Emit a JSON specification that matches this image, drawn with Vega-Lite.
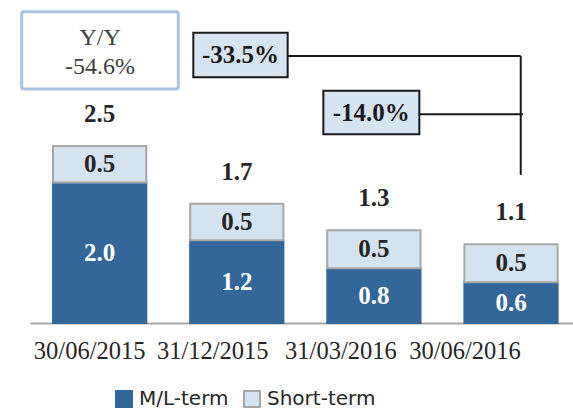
{
  "$schema": "https://vega.github.io/schema/vega-lite/v6.json",
  "width": 543,
  "height": 323,
  "autosize": "none",
  "padding": {"left": 30, "top": 0, "right": 0, "bottom": 86},
  "background": "white",
  "config": {"view": {"stroke": null}, "axis": {"grid": false}},
  "resolve": {"scale": {"x": "independent"}},
  "layer": [
    {
      "data": {
        "values": [
          {"date": "30/06/2015", "term": "M/L-term", "value": 2.0},
          {"date": "30/06/2015", "term": "Short-term", "value": 0.52},
          {"date": "31/12/2015", "term": "M/L-term", "value": 1.18},
          {"date": "31/12/2015", "term": "Short-term", "value": 0.52},
          {"date": "31/03/2016", "term": "M/L-term", "value": 0.78},
          {"date": "31/03/2016", "term": "Short-term", "value": 0.54},
          {"date": "30/06/2016", "term": "M/L-term", "value": 0.58},
          {"date": "30/06/2016", "term": "Short-term", "value": 0.54}
        ]
      },
      "layer": [
        {
          "mark": {"type": "bar", "strokeWidth": 2},
          "encoding": {
            "x": {
              "field": "date", "type": "nominal",
              "sort": ["30/06/2015", "31/12/2015", "31/03/2016", "30/06/2016"],
              "scale": {"paddingInner": 0.32, "paddingOuter": 0.14, "align": 0.6},
              "axis": {"title": null, "labelAngle": 0, "labelFont": "Liberation Serif", "labelFontSize": 24.5, "labelColor": "#262626", "ticks": false, "labelPadding": 16, "domainColor": "#a6a6a6", "domainWidth": 2, "labelFlush": false,
                "labelOffset": {"expr": "datum.value === '30/06/2015' ? -10 : datum.value === '31/12/2015' ? -24 : datum.value === '31/03/2016' ? -33 : -46"}}
            },
            "y": {"field": "value", "type": "quantitative", "stack": "zero", "scale": {"domain": [0, 4.6], "nice": false}, "axis": null},
            "order": {"field": "term", "type": "nominal", "sort": "ascending"},
            "color": {
              "field": "term", "type": "nominal",
              "scale": {"domain": ["M/L-term", "Short-term"], "range": ["#336699", "#d5e3f1"]},
              "legend": {"orient": "none", "legendX": 84, "legendY": 389, "direction": "horizontal", "padding": 0, "title": null, "symbolType": "square", "symbolSize": 256, "symbolStrokeWidth": 2, "labelFont": "DejaVu Sans", "labelFontSize": 20, "labelColor": "#262626", "columnPadding": 11, "labelOffset": 5}
            },
            "stroke": {
              "field": "term", "type": "nominal",
              "scale": {"domain": ["M/L-term", "Short-term"], "range": ["#336699", "#a6a6a6"]},
              "legend": {"orient": "none", "legendX": 84, "legendY": 389, "direction": "horizontal", "padding": 0, "title": null, "symbolType": "square", "symbolSize": 256, "symbolStrokeWidth": 2, "labelFont": "DejaVu Sans", "labelFontSize": 20, "labelColor": "#262626", "columnPadding": 11, "labelOffset": 5}
            }
          }
        },
        {
          "transform": [
            {"stack": "value", "groupby": ["date"], "sort": [{"field": "term", "order": "ascending"}], "as": ["v0", "v1"]},
            {"fold": ["v0", "v1"], "as": ["edge", "pos"]},
            {"aggregate": [{"op": "mean", "field": "pos", "as": "mid"}, {"op": "max", "field": "value", "as": "val"}], "groupby": ["date", "term"]}
          ],
          "mark": {"type": "text", "font": "Liberation Serif", "fontWeight": "bold", "fontSize": 25, "baseline": "middle", "align": "center"},
          "encoding": {
            "x": {"field": "date", "type": "nominal", "sort": ["30/06/2015", "31/12/2015", "31/03/2016", "30/06/2016"]},
            "y": {"field": "mid", "type": "quantitative", "scale": {"domain": [0, 4.6], "nice": false}, "axis": null},
            "text": {"field": "val", "type": "quantitative", "format": ".1f"},
            "color": {"condition": {"test": "datum.term === 'M/L-term'", "value": "white"}, "value": "#262626"}
          }
        },
        {
          "mark": {"type": "text", "font": "Liberation Serif", "fontWeight": "bold", "fontSize": 25, "baseline": "middle", "align": "center", "dy": -32, "color": "#262626"},
          "encoding": {
            "x": {"field": "date", "type": "nominal", "sort": ["30/06/2015", "31/12/2015", "31/03/2016", "30/06/2016"]},
            "y": {"aggregate": "sum", "field": "value", "type": "quantitative", "scale": {"domain": [0, 4.6], "nice": false}, "axis": null},
            "text": {"aggregate": "sum", "field": "value", "type": "quantitative", "format": ".1f"}
          }
        }
      ]
    },
    {
      "data": {"values": [{"yy": "Y/Y", "yyChange": "-54.6%", "chg1": "-33.5%", "chg2": "-14.0%"}]},
      "layer": [
        {
          "mark": {"type": "rect", "fill": "white", "stroke": "#a9c4e2", "strokeWidth": 3, "cornerRadius": 2},
          "encoding": {
            "x": {"datum": -0.061, "type": "quantitative", "scale": {"domain": [0, 4], "nice": false, "zero": false}, "axis": null},
            "x2": {"datum": 1.092},
            "y": {"datum": 4.433, "type": "quantitative", "scale": {"domain": [0, 4.6], "nice": false}, "axis": null},
            "y2": {"datum": 3.332}
          }
        },
        {
          "mark": {"type": "text", "font": "Liberation Serif", "fontSize": 24, "color": "#404040", "baseline": "middle", "align": "center"},
          "encoding": {
            "x": {"datum": 0.516, "type": "quantitative", "scale": {"domain": [0, 4], "nice": false, "zero": false}, "axis": null},
            "y": {"datum": 4.058, "type": "quantitative", "scale": {"domain": [0, 4.6], "nice": false}, "axis": null},
            "text": {"field": "yy"}
          }
        },
        {
          "mark": {"type": "text", "font": "Liberation Serif", "fontSize": 24, "color": "#404040", "baseline": "middle", "align": "center"},
          "encoding": {
            "x": {"datum": 0.516, "type": "quantitative", "scale": {"domain": [0, 4], "nice": false, "zero": false}, "axis": null},
            "y": {"datum": 3.646, "type": "quantitative", "scale": {"domain": [0, 4.6], "nice": false}, "axis": null},
            "text": {"field": "yyChange"}
          }
        },
        {
          "mark": {"type": "rule", "color": "#1a1a1a", "strokeWidth": 2},
          "encoding": {
            "x": {"datum": 1.898, "type": "quantitative", "scale": {"domain": [0, 4], "nice": false, "zero": false}, "axis": null},
            "x2": {"datum": 3.615},
            "y": {"datum": 3.802, "type": "quantitative", "scale": {"domain": [0, 4.6], "nice": false}, "axis": null}
          }
        },
        {
          "mark": {"type": "rule", "color": "#1a1a1a", "strokeWidth": 2},
          "encoding": {
            "x": {"datum": 3.615, "type": "quantitative", "scale": {"domain": [0, 4], "nice": false, "zero": false}, "axis": null},
            "y": {"datum": 3.802, "type": "quantitative", "scale": {"domain": [0, 4.6], "nice": false}, "axis": null},
            "y2": {"datum": 2.108}
          }
        },
        {
          "mark": {"type": "rule", "color": "#1a1a1a", "strokeWidth": 2},
          "encoding": {
            "x": {"datum": 2.868, "type": "quantitative", "scale": {"domain": [0, 4], "nice": false, "zero": false}, "axis": null},
            "x2": {"datum": 3.632},
            "y": {"datum": 2.972, "type": "quantitative", "scale": {"domain": [0, 4.6], "nice": false}, "axis": null}
          }
        },
        {
          "mark": {"type": "rect", "fill": "#d6e4f2", "stroke": "#1a1a1a", "strokeWidth": 2},
          "encoding": {
            "x": {"datum": 1.203, "type": "quantitative", "scale": {"domain": [0, 4], "nice": false, "zero": false}, "axis": null},
            "x2": {"datum": 1.898},
            "y": {"datum": 4.134, "type": "quantitative", "scale": {"domain": [0, 4.6], "nice": false}, "axis": null},
            "y2": {"datum": 3.499}
          }
        },
        {
          "mark": {"type": "text", "font": "Liberation Serif", "fontWeight": "bold", "fontSize": 25, "color": "#1a1a1a", "baseline": "middle", "align": "center"},
          "encoding": {
            "x": {"datum": 1.551, "type": "quantitative", "scale": {"domain": [0, 4], "nice": false, "zero": false}, "axis": null},
            "y": {"datum": 3.817, "type": "quantitative", "scale": {"domain": [0, 4.6], "nice": false}, "axis": null},
            "text": {"field": "chg1"}
          }
        },
        {
          "mark": {"type": "rect", "fill": "#d6e4f2", "stroke": "#1a1a1a", "strokeWidth": 2},
          "encoding": {
            "x": {"datum": 2.161, "type": "quantitative", "scale": {"domain": [0, 4], "nice": false, "zero": false}, "axis": null},
            "x2": {"datum": 2.868},
            "y": {"datum": 3.308, "type": "quantitative", "scale": {"domain": [0, 4.6], "nice": false}, "axis": null},
            "y2": {"datum": 2.687}
          }
        },
        {
          "mark": {"type": "text", "font": "Liberation Serif", "fontWeight": "bold", "fontSize": 25, "color": "#1a1a1a", "baseline": "middle", "align": "center"},
          "encoding": {
            "x": {"datum": 2.514, "type": "quantitative", "scale": {"domain": [0, 4], "nice": false, "zero": false}, "axis": null},
            "y": {"datum": 2.991, "type": "quantitative", "scale": {"domain": [0, 4.6], "nice": false}, "axis": null},
            "text": {"field": "chg2"}
          }
        }
      ]
    }
  ]
}
